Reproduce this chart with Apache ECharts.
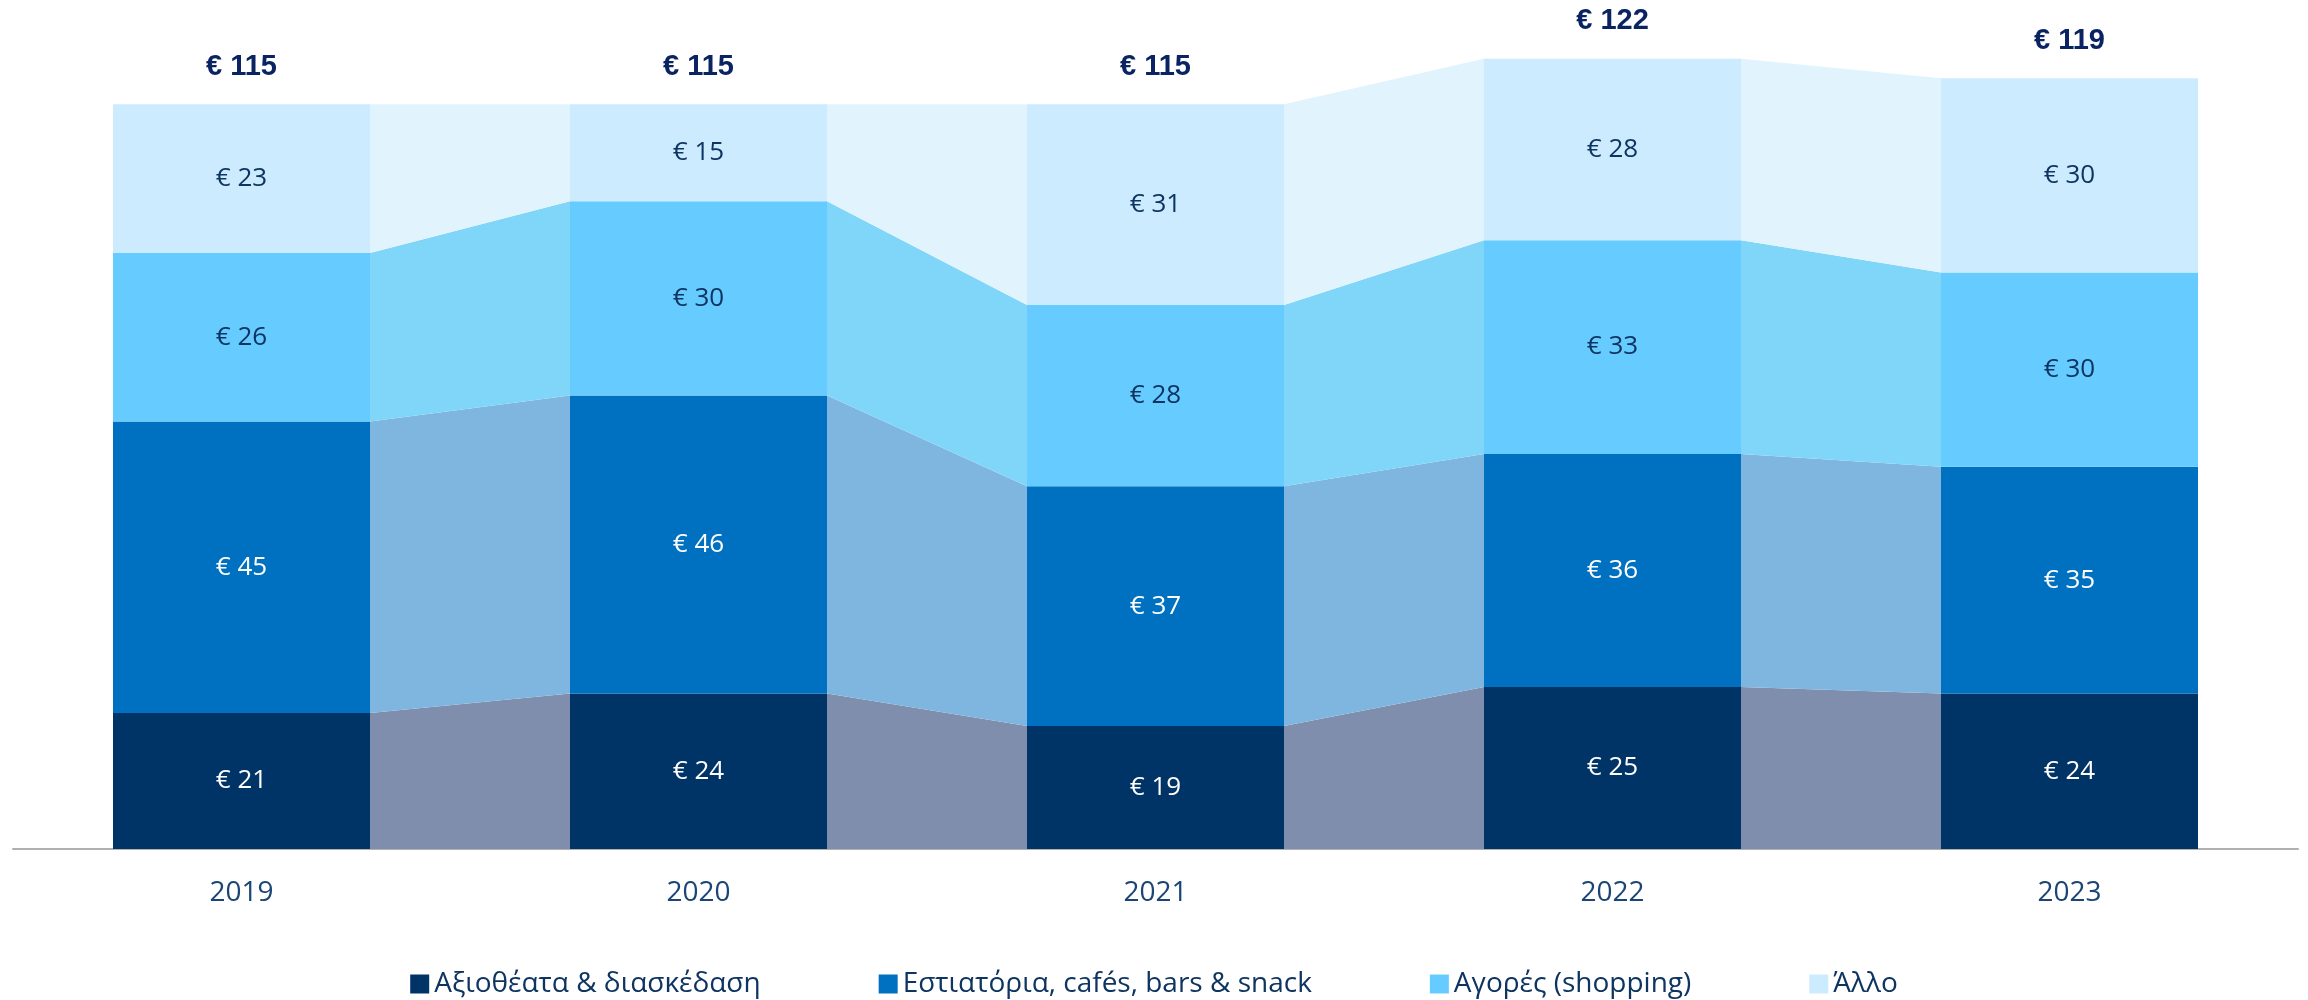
<!DOCTYPE html>
<html lang="el">
<head>
    <meta charset="utf-8">
    <title>Δαπάνες ανά κατηγορία</title>
    <script src="https://cdn.jsdelivr.net/npm/echarts@6/dist/echarts.min.js"></script>
    <style>
        html, body { margin: 0; padding: 0; background: #fff; }
        #chart { width: 2308px; height: 1000px; }
    </style>
</head>
<body>
<div id="chart"></div>
<script>
    // δεδομένα
    var years = ['2019', '2020', '2021', '2022', '2023'];
    var sights = [21, 24, 19, 25, 24];
    var food = [45, 46, 37, 36, 35];
    var shopping = [26, 30, 28, 33, 30];
    var other = [23, 15, 31, 28, 30];
    var names = ['Αξιοθέατα & διασκέδαση', 'Εστιατόρια, cafés, bars & snack', 'Αγορές (shopping)', 'Άλλο'];

    var layers = [sights, food, shopping, other];
    var barColors = ['#003366', '#0070C0', '#66CCFF', '#CCEBFF'];
    var bandColors = ['#7F8EAD', '#7FB6DF', '#80D6F8', '#E1F3FD'];
    var labelColors = ['#ffffff', '#ffffff', '#0E3461', '#0E3461'];
    var BAR_W = 257;
    var FONT = 'Open Sans';

    function total(i) {
        var t = 0;
        layers.forEach(function (l) { t += l[i]; });
        return t;
    }

    // ζώνες που ενώνουν τις στήλες
    var bandData = [];
    for (var g = 0; g < years.length - 1; g++) {
        for (var k = 0; k < layers.length; k++) bandData.push([g, k]);
    }

    function renderBand(params, api) {
        var i = api.value(0), k = api.value(1);
        var b0 = 0, b1 = 0;
        for (var j = 0; j < k; j++) { b0 += layers[j][i]; b1 += layers[j][i + 1]; }
        var t0 = b0 + layers[k][i], t1 = b1 + layers[k][i + 1];
        var half = BAR_W / 2;
        var p1 = api.coord([i, b0]), p2 = api.coord([i, t0]);
        var p3 = api.coord([i + 1, t1]), p4 = api.coord([i + 1, b1]);
        return {
            type: 'polygon',
            shape: {
                points: [
                    [p1[0] + half, p1[1]], [p2[0] + half, p2[1]],
                    [p3[0] - half, p3[1]], [p4[0] - half, p4[1]]
                ]
            },
            style: { fill: bandColors[k] }
        };
    }

    var series = layers.map(function (vals, k) {
        return {
            name: names[k],
            type: 'bar',
            stack: 'total',
            barWidth: BAR_W,
            data: vals,
            z: 3,
            itemStyle: { color: barColors[k] },
            label: {
                show: true,
                position: 'inside',
                formatter: '€ {c}',
                color: labelColors[k],
                fontFamily: FONT,
                fontSize: 26
            },
            emphasis: { disabled: true }
        };
    });

    // σύνολα πάνω από τις στήλες
    series.push({
        name: 'total',
        type: 'bar',
        stack: 'total',
        barWidth: BAR_W,
        data: years.map(function () { return 0; }),
        itemStyle: { color: 'transparent' },
        label: {
            show: true,
            position: 'top',
            distance: 23,
            formatter: function (p) { return '€ ' + total(p.dataIndex); },
            color: '#0A2463',
            fontFamily: 'Liberation Sans',
            fontWeight: 'bold',
            fontSize: 29
        },
        silent: true
    });

    series.push({
        type: 'custom',
        renderItem: renderBand,
        data: bandData,
        z: 1,
        silent: true
    });

    var chart = echarts.init(document.getElementById('chart'));
    chart.setOption({
        animation: false,
        backgroundColor: '#ffffff',
        grid: { left: 13, right: 10, top: 7, bottom: 151 },
        legend: {
            data: names,
            left: 'center',
            top: 965,
            icon: 'rect',
            itemWidth: 19,
            itemHeight: 19,
            itemGap: 118,
            textStyle: { fontFamily: FONT, fontSize: 28, color: '#0E3461' }
        },
        xAxis: {
            type: 'category',
            data: years,
            axisLine: { lineStyle: { color: '#B0B0B0', width: 2 } },
            axisTick: { show: false },
            axisLabel: { fontFamily: FONT, fontSize: 28, color: '#1A4576', margin: 30 }
        },
        yAxis: {
            type: 'value',
            min: 0,
            max: 130,
            show: false,
            splitLine: { show: false }
        },
        series: series
    });
</script>
</body>
</html>
